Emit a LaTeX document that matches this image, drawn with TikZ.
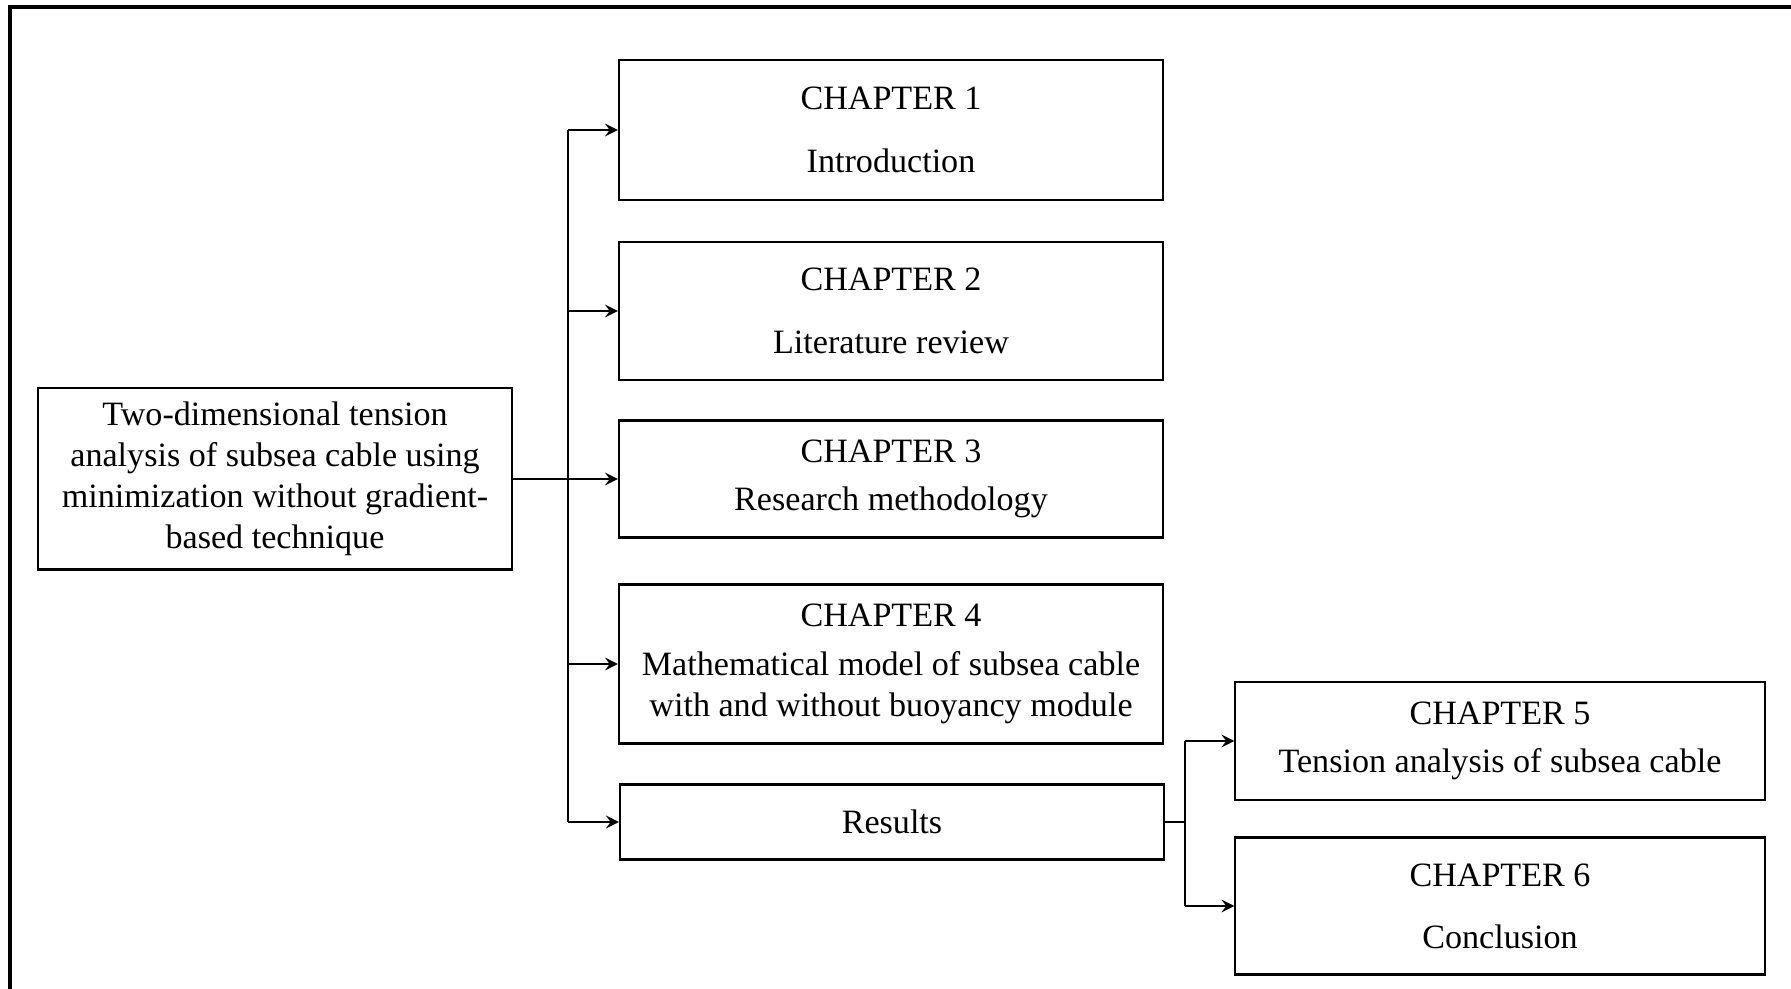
\documentclass[tikz,border=0pt]{standalone}
\usepackage{fontspec}
\setmainfont{Liberation Serif}
\begin{document}
\begin{tikzpicture}[x=0.01cm, y=-0.01cm, >=stealth, line width=0.6pt,
		font=\fontsize{9.7}{11.7}\selectfont,
		box/.style={draw, align=center, inner sep=0pt, minimum width=5.44cm},
		chbox/.style={box, minimum width=5.29cm}]
		\useasboundingbox (0,0) rectangle (1791,989);
		\draw[line width=0.9pt] (10,989) -- (10,7) -- (1791,7);
		
		% Chủ đề chính
		\node[box, minimum width=4.74cm, minimum height=1.81cm] (topic) at (275,479) {Two-dimensional tension\\analysis of subsea cable using\\minimization without gradient-\\based technique};
		
		\node[box, minimum height=1.40cm] (ch1) at (891,130) {CHAPTER 1\\[6pt]Introduction};
		\node[box, minimum height=1.38cm] (ch2) at (891,311) {CHAPTER 2\\[6pt]Literature review};
		\node[box, minimum height=1.17cm] (ch3) at (891,479) {CHAPTER 3\\[2pt]Research methodology};
		\node[box, minimum height=1.59cm] (ch4) at (891,664) {CHAPTER 4\\[2pt]Mathematical model of subsea cable\\with and without buoyancy module};
		\node[box, minimum height=0.75cm] (res) at (892,822) {Results};
		\node[chbox, minimum height=1.18cm] (ch5) at (1500,741) {CHAPTER 5\\[2pt]Tension analysis of subsea cable};
		\node[chbox, minimum height=1.37cm] (ch6) at (1500,906) {CHAPTER 6\\[6pt]Conclusion};
		
		% Các đường nối
		\coordinate (busL) at (568,479);
		\coordinate (busR) at (1185,822);
		\draw[->] (topic.east) -- (ch3.west);
		\draw (busL |- ch1.west) -- (busL |- res.west);
		\foreach \n in {ch1,ch2,ch4,res}
			\draw[->] (busL |- \n.west) -- (\n.west);
		\draw (res.east) -- (busR);
		\draw (busR |- ch5.west) -- (busR |- ch6.west);
		\foreach \n in {ch5,ch6}
			\draw[->] (busR |- \n.west) -- (\n.west);
\end{tikzpicture}
\end{document}
